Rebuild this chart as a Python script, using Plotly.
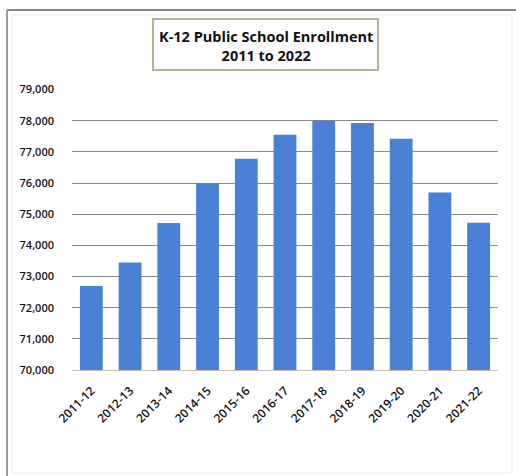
import plotly.graph_objects as go

years = ["2011-12", "2012-13", "2013-14", "2014-15", "2015-16", "2016-17",
         "2017-18", "2018-19", "2019-20", "2020-21", "2021-22"]
enrollment = [72700, 73450, 74720, 76000, 76780, 77550, 78000, 77930, 77420, 75700, 74730]
y_ticks = [70000, 71000, 72000, 73000, 74000, 75000, 76000, 77000, 78000, 79000]
y_tick_labels = ["70,000", "71,000", "72,000", "73,000", "74,000", "75,000",
                 "76,000", "77,000", "78,000", "79,000"]

W, H = 516, 476
L, R, T, B = 72, 18, 89, 106
pw, ph = W - L - R, H - T - B

def px(x):
    return (x - L) / pw

def py(y):
    return (H - B - y) / ph

fig = go.Figure(go.Bar(
    x=years, y=enrollment,
    marker=dict(color="#4a80d6", line=dict(width=0)),
))

tick_font = "'Open Sans', Arial, sans-serif"

fig.update_layout(
    width=W, height=H,
    margin=dict(l=L, r=R, t=T, b=B),
    paper_bgcolor="white", plot_bgcolor="white",
    bargap=0.41,
    showlegend=False,
    font=dict(family=tick_font, color="#111111"),
    xaxis=dict(
        type="category", automargin=False,
        tickangle=-45, tickfont=dict(size=12, color="#111111", family=tick_font, weight=600),
        showgrid=False, showline=True, linecolor="#c8c0b0", linewidth=1,
        ticks="", ticklen=0, ticklabelstandoff=8,
    ),
    yaxis=dict(
        automargin=False,
        range=[70000, 79020], tickvals=y_ticks, ticktext=y_tick_labels,
        tickfont=dict(size=11, color="#111111", family=tick_font, weight=600),
        showgrid=True, gridcolor="#8a8a8a", gridwidth=1,
        zeroline=False, showline=False, ticks="", ticklabelstandoff=17,
    ),
    shapes=[
        dict(type="line", xref="paper", yref="paper", x0=px(7), x1=px(516), y0=py(10), y1=py(10),
             line=dict(color="#8a8a8a", width=2)),
        dict(type="line", xref="paper", yref="paper", x0=px(7), x1=px(7), y0=py(10), y1=py(476),
             line=dict(color="#9a9a9a", width=2)),
        dict(type="rect", xref="paper", yref="paper", x0=px(12), x1=px(512), y0=py(15), y1=py(473),
             line=dict(color="#ececec", width=1)),
        dict(type="rect", xref="paper", yref="paper", x0=px(153), x1=px(378), y0=py(70), y1=py(19),
             line=dict(color="#b5b596", width=2), fillcolor="white"),
    ],
    annotations=[
        dict(xref="paper", yref="paper", x=px(265.5), y=py(46), showarrow=False,
             text="<b>K-12 Public School Enrollment<br>2011 to 2022</b>",
             font=dict(size=14.5, color="#111111", family=tick_font),
             align="center", xanchor="center", yanchor="middle"),
    ],
)

fig.write_html("out.html", config={"displayModeBar": False},
               post_script="document.body.style.margin='0';document.body.style.padding='0';")
